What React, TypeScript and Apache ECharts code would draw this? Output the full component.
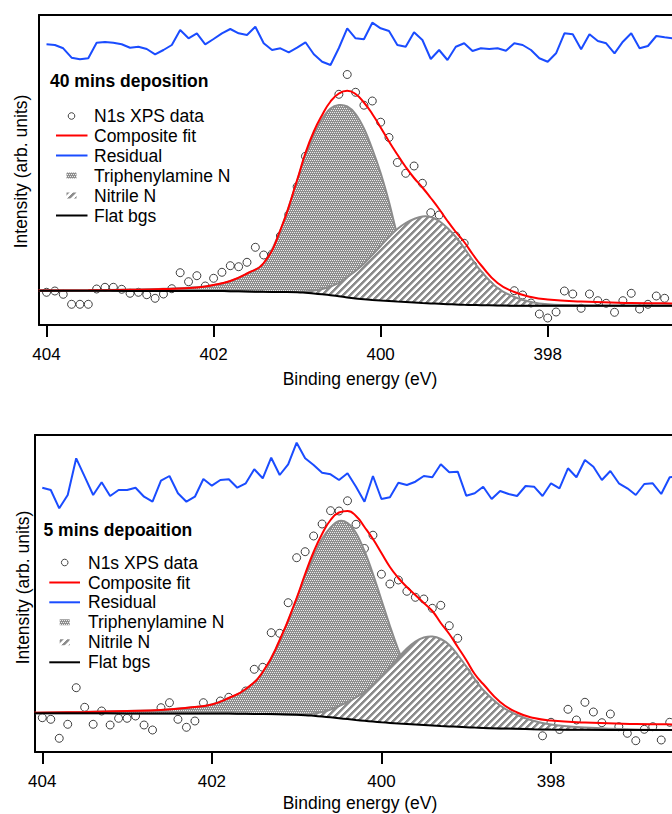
import React, { useEffect, useRef } from "react";
import * as echarts from "echarts";

const FONT = "'Liberation Sans', Arial, Helvetica, sans-serif";

// Binding energies of the measured points (eV)
const dataEnergy = [
  404.0, 403.9, 403.8, 403.7, 403.6, 403.5, 403.4, 403.3, 403.2, 403.1,
  403.0, 402.9, 402.8, 402.7, 402.6, 402.5, 402.4, 402.3, 402.2, 402.1,
  402.0, 401.9, 401.8, 401.7, 401.6, 401.5, 401.4, 401.3, 401.2, 401.1,
  401.0, 400.9, 400.8, 400.7, 400.6, 400.5, 400.4, 400.3, 400.2, 400.1,
  400.0, 399.9, 399.8, 399.7, 399.6, 399.5, 399.4, 399.3, 399.2, 399.1,
  399.0, 398.9, 398.8, 398.7, 398.6, 398.5, 398.4, 398.3, 398.2, 398.1,
  398.0, 397.9, 397.8, 397.7, 397.6, 397.5, 397.4, 397.3, 397.2, 397.1,
  397.0, 396.9, 396.8, 396.7, 396.6, 396.5,
];

// Energies at which the fit curves are sampled (eV)
const fitEnergy = [
  404.1, 403.5, 403.0, 402.6, 402.2, 402.0, 401.8, 401.6, 401.4, 401.2,
  401.0, 400.9, 400.8, 400.7, 400.6, 400.5, 400.4, 400.3, 400.2, 400.1,
  400.0, 399.9, 399.8, 399.7, 399.6, 399.5, 399.4, 399.3, 399.2, 399.1,
  399.0, 398.9, 398.8, 398.6, 398.4, 398.2, 398.0, 397.6, 397.0, 396.4, 395.7,
];

// ---- 40 mins deposition ----
const p1Data = [
  32.7, 34.0, 30.7, 20.7, 20.7, 20.7, 36.0, 37.7, 37.7, 35.7,
  31.7, 32.7, 30.3, 26.7, 31.0, 36.3, 52.3, 43.3, 49.3, 39.0,
  46.7, 52.7, 59.3, 58.3, 62.7, 77.7, 70.0, 71.0, 89.0, 110.4,
  138.3, 168.7, 183.0, 191.0, 201.0, 230.7, 250.5, 232.7, 219.8, 224.0,
  202.8, 187.5, 162.5, 151.7, 159.0, 141.7, 112.3, 110.0, 87.0, 89.0,
  81.7, 60.0, 49.0, 40.0, 33.0, 27.0, 34.3, 30.0, 22.0, 11.0,
  7.0, 13.0, 34.0, 31.0, 16.7, 31.0, 24.3, 21.7, 12.7, 24.3,
  31.7, 16.0, 20.7, 29.0, 26.7, 25.0,
];
const p1Residual = [
  280.7, 280.0, 276.7, 267.3, 265.7, 266.7, 282.3, 283.0, 282.3, 280.7,
  277.3, 278.3, 276.0, 270.7, 275.0, 280.0, 295.0, 286.7, 291.7, 280.7,
  286.0, 291.7, 296.0, 291.7, 290.0, 298.3, 281.7, 275.0, 276.7, 272.7,
  277.3, 282.7, 270.7, 263.3, 260.0, 277.0, 296.7, 286.7, 285.7, 302.3,
  296.7, 294.0, 280.0, 278.3, 292.7, 285.0, 266.0, 275.0, 265.0, 278.3,
  281.7, 274.0, 276.7, 276.0, 276.7, 274.3, 281.7, 280.0, 275.0, 266.7,
  263.3, 271.7, 291.7, 290.7, 275.7, 290.7, 284.0, 281.7, 271.7, 283.3,
  291.7, 276.7, 279.0, 289.0, 287.7, 286.7,
];
const p1Fit = [
  34.5, 34.7, 35.2, 36.0, 37.5, 40.0, 44.0, 51.5, 62.0, 95.0,
  145.0, 172.0, 193.5, 210.0, 223.5, 231.5, 234.3, 231.0, 222.5, 211.0,
  197.5, 183.5, 170.5, 158.0, 147.0, 137.5, 127.0, 116.0, 104.0, 93.0,
  83.0, 71.0, 60.0, 42.0, 33.0, 28.0, 25.5, 23.5, 22.0, 21.5, 21.0,
];
const p1Background = [
  34.2, 34.2, 34.1, 34.0, 34.0, 34.0, 33.8, 33.5, 33.2, 33.0,
  32.7, 32.2, 31.5, 30.7, 29.8, 28.7, 27.6, 26.6, 25.7, 25.0,
  24.4, 23.9, 23.4, 23.0, 22.5, 22.0, 21.6, 21.2, 20.8, 20.5,
  20.2, 20.0, 19.8, 19.5, 19.3, 19.2, 19.2, 19.2, 19.2, 19.2, 19.2,
];
// upper edge of each filled component
const p1Triphenylamine = [
  34.4, 34.6, 35.4, 36.2, 37.7, 39.7, 43.8, 51.2, 61.5, 94.5,
  144.0, 170.0, 190.0, 206.0, 216.5, 220.0, 218.5, 211.0, 196.5, 176.0,
  152.0, 123.0, 90.0, 67.0, 51.0, 41.0, 35.0, 31.0, 28.0, 25.5,
  23.5, 21.5, 20.5, 19.8, 19.3, 19.2, 19.2, 19.2, 19.2, 19.2, 19.2,
];
const p1Nitrile = [
  34.2, 34.2, 34.1, 34.0, 34.0, 34.0, 33.8, 33.5, 33.2, 33.0,
  33.0, 33.5, 34.5, 36.0, 38.5, 42.0, 48.0, 54.0, 61.2, 70.0,
  79.0, 88.0, 96.0, 102.0, 106.0, 108.5, 108.0, 104.0, 97.0, 88.0,
  77.0, 65.0, 54.0, 37.0, 28.0, 23.0, 20.7, 19.5, 19.2, 19.2, 19.2,
];

// ---- 5 mins deposition ----
const p2Data = [
  34.3, 32.7, 13.7, 27.7, 64.3, 44.7, 27.7, 41.0, 27.0, 33.7,
  33.7, 36.0, 27.0, 22.0, 44.3, 49.3, 32.7, 24.7, 31.0, 49.3,
  43.0, 51.0, 54.7, 53.0, 61.0, 82.7, 84.7, 119.3, 118.7, 149.3,
  194.3, 200.3, 216.0, 228.0, 241.3, 241.0, 251.2, 227.7, 203.5, 216.8,
  177.8, 168.0, 172.0, 160.7, 154.7, 153.0, 143.7, 146.7, 126.3, 113.7,
  80.0, 68.0, 57.0, 44.0, 41.0, 35.0, 28.5, 29.0, 27.0, 16.2,
  29.7, 22.5, 42.7, 32.0, 49.7, 40.0, 29.3, 38.0, 25.3, 18.7,
  11.3, 22.7, 25.3, 12.0, 29.7, 28.0,
];
const p2Residual = [
  264.3, 262.0, 243.7, 257.0, 293.7, 275.3, 257.0, 269.7, 256.0, 262.0,
  262.0, 264.3, 255.3, 250.3, 271.3, 276.0, 258.7, 250.3, 255.3, 273.0,
  266.3, 272.0, 272.7, 264.3, 268.7, 282.7, 273.7, 294.3, 277.0, 287.7,
  309.3, 293.7, 287.0, 279.3, 277.7, 272.0, 278.7, 265.3, 250.3, 276.0,
  253.0, 254.7, 269.3, 267.0, 270.3, 276.0, 274.7, 287.7, 279.7, 280.3,
  256.3, 258.7, 265.3, 253.0, 261.0, 258.0, 256.0, 266.0, 265.3, 256.0,
  268.7, 263.7, 283.7, 274.7, 292.0, 285.3, 272.0, 281.0, 268.7, 263.7,
  257.0, 268.0, 268.7, 258.0, 274.7, 276.0,
];
const p2Fit = [
  39.2, 40.0, 41.0, 42.0, 45.0, 47.5, 54.0, 63.0, 80.0, 112.0,
  154.0, 178.0, 200.0, 218.0, 232.0, 239.5, 241.0, 236.0, 225.0, 213.0,
  199.0, 185.0, 174.0, 165.0, 157.0, 149.0, 141.0, 129.0, 118.0, 105.0,
  92.0, 78.0, 68.0, 50.0, 39.5, 34.0, 31.5, 29.5, 28.0, 27.5, 27.0,
];
const p2Background = [
  38.7, 38.7, 38.6, 38.6, 38.5, 38.5, 38.4, 38.2, 38.0, 37.7,
  37.2, 36.8, 36.2, 35.5, 34.7, 33.8, 32.9, 32.0, 31.2, 30.4,
  29.7, 29.1, 28.5, 28.0, 27.5, 27.0, 26.5, 26.0, 25.6, 25.2,
  24.8, 24.4, 24.1, 23.6, 23.2, 22.8, 22.5, 22.2, 22.0, 22.0, 22.0,
];
const p2Triphenylamine = [
  39.2, 40.0, 41.0, 42.0, 45.0, 47.5, 54.0, 62.5, 79.5, 111.0,
  153.0, 176.0, 196.0, 213.0, 224.5, 231.0, 229.0, 219.0, 201.0, 178.0,
  152.0, 126.0, 102.0, 82.0, 65.0, 52.0, 43.0, 37.0, 32.5, 29.0,
  26.5, 25.0, 24.1, 23.6, 23.2, 22.8, 22.5, 22.2, 22.0, 22.0, 22.0,
];
const p2Nitrile = [
  38.7, 38.7, 38.6, 38.6, 38.5, 38.5, 38.4, 38.2, 38.0, 37.7,
  37.4, 37.5, 38.5, 40.0, 42.5, 46.0, 50.0, 54.5, 60.0, 67.5,
  76.0, 85.0, 94.5, 103.5, 110.5, 114.5, 115.5, 113.0, 107.0, 97.0,
  85.5, 73.0, 62.0, 46.5, 37.0, 31.0, 27.5, 24.5, 22.5, 22.0, 22.0,
];

const tickValues = [398, 400, 402, 404];
const panelTitles = ["40 mins deposition", "5 mins depoaition"];
const legendNames = [
  "N1s XPS data",
  "Composite fit",
  "Residual",
  "Triphenylamine N",
  "Nitrile N",
  "Flat bgs",
];
const xTitle = "Binding energy (eV)";
const yTitle = "Intensity (arb. units)";

function makeDots(): HTMLCanvasElement {
  const c = document.createElement("canvas");
  c.width = 4;
  c.height = 4;
  const ctx = c.getContext("2d")!;
  ctx.fillStyle = "#8e8e8e";
  ctx.fillRect(0, 0, 4, 4);
  ctx.fillStyle = "#ececec";
  ctx.fillRect(0, 0, 1, 1);
  ctx.fillRect(2, 0, 1, 1);
  ctx.fillRect(1, 2, 1, 1);
  ctx.fillRect(3, 2, 1, 1);
  return c;
}

function makeStripes(): HTMLCanvasElement {
  const n = 7;
  const c = document.createElement("canvas");
  c.width = n;
  c.height = n;
  const ctx = c.getContext("2d")!;
  for (let y = 0; y < n; y++) {
    for (let x = 0; x < n; x++) {
      const s = (x + y + 1) % n;
      ctx.fillStyle = s < 3 ? "#8c8c8c" : s === 3 ? "#c4c4c4" : "#ffffff";
      ctx.fillRect(x, y, 1, 1);
    }
  }
  return c;
}

export default function App() {
  const ref = useRef<HTMLDivElement>(null);

  useEffect(() => {
    if (!ref.current) return;
    const chart = echarts.init(ref.current, null, { renderer: "svg" });

    const dots: any = { image: makeDots(), repeat: "repeat", imageWidth: 4, imageHeight: 4 };
    const stripes: any = { image: makeStripes(), repeat: "repeat", imageWidth: 7, imageHeight: 7 };

    const panels = [
      { data: p1Data, resid: p1Residual, fit: p1Fit, bg: p1Background, tpa: p1Triphenylamine, nit: p1Nitrile },
      { data: p2Data, resid: p2Residual, fit: p2Fit, bg: p2Background, tpa: p2Triphenylamine, nit: p2Nitrile },
    ];

    const grey = "#8c8c8c";
    const series: any[] = [];

    const areaSeries = (g: number, name: string, tops: number[], bg: number[], fill: any, z: number) => ({
      type: "custom", name, xAxisIndex: g, yAxisIndex: g, z, silent: true, clip: true,
      data: [0],
      renderItem: (_params: any, api: any) => {
        const top = fitEnergy.map((e, i) => api.coord([e, tops[i]]));
        const bottom = fitEnergy.map((e, i) => api.coord([e, bg[i]])).reverse();
        return {
          type: "group",
          children: [
            { type: "polygon", shape: { points: top.concat(bottom), smooth: 0.35 }, style: { fill, stroke: null } },
            { type: "polyline", shape: { points: top, smooth: 0.35 }, style: { stroke: grey, lineWidth: 2, fill: null } },
          ],
        };
      },
    });

    panels.forEach((p, g) => {
      const ax = { xAxisIndex: g, yAxisIndex: g };
      const fitPts = (vals: number[]) => fitEnergy.map((e, i) => [e, vals[i]]);
      const dataPts = (vals: number[]) => dataEnergy.map((e, i) => [e, vals[i]]);
      series.push({
        type: "scatter", name: legendNames[0], ...ax, data: dataPts(p.data),
        symbol: "circle", symbolSize: 8, silent: true, z: 1,
        itemStyle: { color: "#ffffff", borderColor: "#111111", borderWidth: 1 },
      });
      series.push(areaSeries(g, legendNames[3], p.tpa, p.bg, dots, 2));
      series.push(areaSeries(g, legendNames[4], p.nit, p.bg, stripes, 3));
      series.push({
        type: "line", name: legendNames[1], ...ax, data: fitPts(p.fit),
        smooth: true, symbol: "none", silent: true, z: 4,
        lineStyle: { color: "#ff0000", width: 2 },
      });
      series.push({
        type: "line", name: legendNames[2], ...ax, data: dataPts(p.resid),
        symbol: "none", silent: true, z: 4,
        lineStyle: { color: "#1a4cff", width: 2 },
      });
      series.push({
        type: "line", name: legendNames[5], ...ax, data: fitPts(p.bg),
        smooth: true, symbol: "none", silent: true, z: 5,
        lineStyle: { color: "#000000", width: 2 },
      });
    });

    const frameLine = { show: true, onZero: false, lineStyle: { color: "#000", width: 2 } };
    const xAxisBottom = (g: number, min: number, max: number) => ({
      type: "value", gridIndex: g, inverse: true, min, max, position: "bottom",
      axisLine: frameLine,
      axisTick: { show: true, inside: false, length: 12, customValues: tickValues, lineStyle: { color: "#000", width: 2 } },
      axisLabel: { show: true, customValues: tickValues, color: "#000", fontSize: 17, fontFamily: FONT, margin: 21 },
      splitLine: { show: false },
    });
    const xAxisTop = (g: number, min: number, max: number) => ({
      type: "value", gridIndex: g, inverse: true, min, max, position: "top",
      axisLine: frameLine,
      axisTick: { show: false },
      axisLabel: { show: false },
      splitLine: { show: false },
    });
    const yAxisBase = (g: number, max: number) => ({
      type: "value", gridIndex: g, min: 0, max, position: "left",
      axisLine: frameLine,
      axisTick: { show: false },
      axisLabel: { show: false },
      splitLine: { show: false },
    });

    const txt = (x: number, y: number, text: string, extra: any = {}, rot = 0) => ({
      type: "text", x, y, rotation: rot, silent: true, z: 100,
      style: {
        text, fill: "#000", fontSize: 17.5, fontFamily: FONT,
        align: "left", verticalAlign: "middle", textAlign: "left", textVerticalAlign: "middle",
        ...extra,
      },
    });

    const legend = (iconX: number, lineX1: number, lineX2: number, textX: number, rows: number[]) => {
      const els: any[] = [];
      legendNames.forEach((n, k) => els.push(txt(textX, rows[k], n)));
      els.push({ type: "circle", silent: true, z: 100, shape: { cx: iconX, cy: rows[0], r: 3.3 }, style: { fill: "#fff", stroke: "#444", lineWidth: 1 } });
      els.push({ type: "line", silent: true, z: 100, shape: { x1: lineX1, y1: rows[1], x2: lineX2, y2: rows[1] }, style: { stroke: "#ff0000", lineWidth: 2 } });
      els.push({ type: "line", silent: true, z: 100, shape: { x1: lineX1, y1: rows[2], x2: lineX2, y2: rows[2] }, style: { stroke: "#1a4cff", lineWidth: 2 } });
      els.push({ type: "rect", silent: true, z: 100, shape: { x: iconX - 5, y: rows[3] - 3, width: 10, height: 6 }, style: { fill: dots } });
      els.push({ type: "rect", silent: true, z: 100, shape: { x: iconX - 5, y: rows[4] - 3, width: 10, height: 6 }, style: { fill: stripes } });
      els.push({ type: "line", silent: true, z: 100, shape: { x1: lineX1, y1: rows[5], x2: lineX2, y2: rows[5] }, style: { stroke: "#000", lineWidth: 2 } });
      return els;
    };

    const graphic: any[] = [
      txt(360, 379, xTitle, { align: "center", textAlign: "center" }),
      txt(360, 803, xTitle, { align: "center", textAlign: "center" }),
      txt(20.5, 171.5, yTitle, { align: "center", textAlign: "center" }, Math.PI / 2),
      txt(23.3, 587.5, yTitle, { align: "center", textAlign: "center" }, Math.PI / 2),
      txt(50, 81, panelTitles[0], { fontWeight: "bold" }),
      txt(43.5, 530, panelTitles[1], { fontWeight: "bold" }),
      ...legend(71.5, 56, 87.5, 94, [116, 135.5, 155.5, 175.5, 195.5, 215.5]),
      ...legend(64.7, 49.3, 80, 88, [562.5, 582.5, 602.3, 622.3, 642.3, 662.3]),
    ];

    const min1 = 396.512;
    const max1 = 404.09;
    const min2 = 396.573;
    const max2 = 404.086;

    const option: any = {
      animation: false,
      backgroundColor: "#ffffff",
      textStyle: { fontFamily: FONT },
      grid: [
        { left: 39, top: 15, right: 0, height: 310, show: false },
        { left: 35, top: 435, right: 0, height: 317, show: false },
      ],
      xAxis: [
        xAxisBottom(0, min1, max1),
        xAxisBottom(1, min2, max2),
        xAxisTop(0, min1, max1),
        xAxisTop(1, min2, max2),
      ],
      yAxis: [yAxisBase(0, 310), yAxisBase(1, 317)],
      series,
      graphic,
    };

    chart.setOption(option);
    return () => chart.dispose();
  }, []);

  return (
    <div
      ref={ref}
      style={{ position: "absolute", left: 0, top: 0, width: 672, height: 814, background: "#fff" }}
    />
  );
}
